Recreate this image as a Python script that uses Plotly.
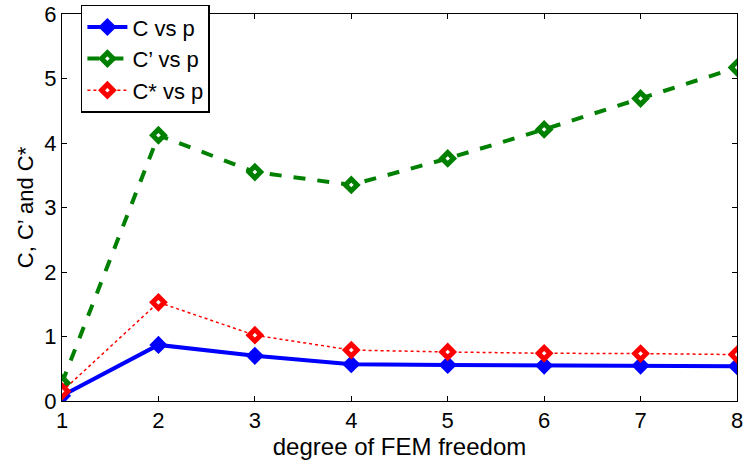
import plotly.graph_objects as go

p = [1, 2, 3, 4, 5, 6, 7, 8]
C = [0.08, 0.87, 0.70, 0.57, 0.56, 0.55, 0.55, 0.54]
C_prime = [0.28, 4.12, 3.55, 3.35, 3.76, 4.21, 4.69, 5.17]
C_star = [0.15, 1.53, 1.02, 0.79, 0.76, 0.74, 0.735, 0.72]

font = "Liberation Sans, Arial, sans-serif"

fig = go.Figure()
fig.add_trace(go.Scatter(
    x=p, y=C, name="C vs p", mode="lines+markers",
    line=dict(color="#0000FF", width=4),
    marker=dict(symbol="diamond", size=14, color="#0000FF"),
))
fig.add_trace(go.Scatter(
    x=p, y=C_prime, name="C’ vs p", mode="lines+markers",
    line=dict(color="#008000", width=4, dash="dash"),
    marker=dict(symbol="diamond", size=9, color="white", line=dict(width=5, color="#008000")),
))
fig.add_trace(go.Scatter(
    x=p, y=C_star, name="C* vs p", mode="lines+markers",
    line=dict(color="#FF0000", width=1.5, dash="dot"),
    marker=dict(symbol="diamond", size=9, color="white", line=dict(width=5, color="#FF0000")),
))

axis_common = dict(
    showgrid=False, zeroline=False, showline=True, linecolor="black", linewidth=1,
    mirror="ticks", ticks="inside", ticklen=5, tickcolor="black",
    tickfont=dict(family=font, size=22, color="black"),
)
fig.update_xaxes(range=[1, 8], tickvals=p, title=dict(text="degree of FEM freedom", font=dict(family=font, size=24, color="black"), standoff=0), **axis_common)
fig.update_yaxes(range=[0, 6], tickvals=[0, 1, 2, 3, 4, 5, 6], title=dict(text="C, C’ and C*", font=dict(family=font, size=22, color="black"), standoff=4), **axis_common)

fig.update_layout(
    width=745, height=464,
    margin=dict(l=62, r=8, t=14, b=63, autoexpand=False),
    paper_bgcolor="white", plot_bgcolor="white",
    showlegend=True,
    legend=dict(
        x=0.028, y=1.024, xanchor="left", yanchor="top",
        bgcolor="white", bordercolor="black", borderwidth=1.5,
        font=dict(family=font, size=22, color="black"),
        itemwidth=40,
    ),
)

fig.write_html("out.html")
